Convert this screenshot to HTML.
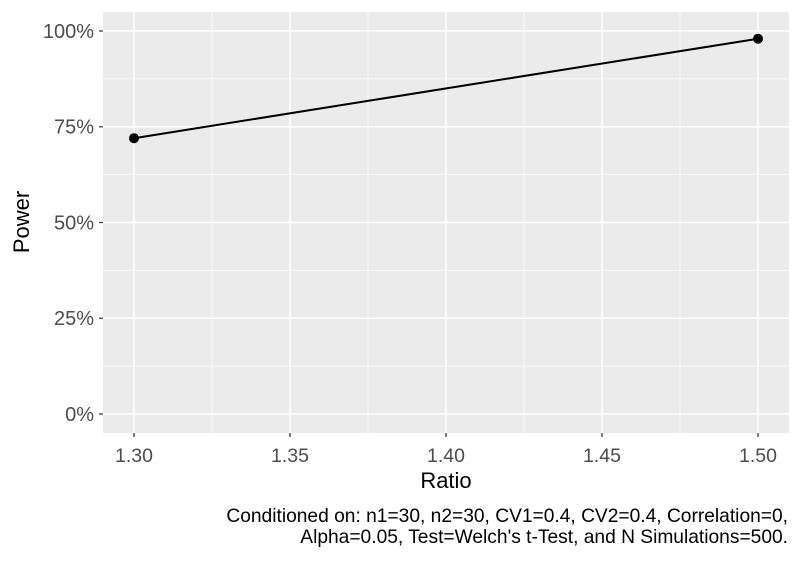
<!DOCTYPE html>
<html><head><meta charset="utf-8"><style>body{margin:0;background:#fff}</style></head><body>
<svg width="800" height="560" xmlns="http://www.w3.org/2000/svg" font-family="Liberation Sans, sans-serif">
<rect width="800" height="560" fill="#fff"/>
<rect x="103" y="12" width="686" height="421" fill="#ebebeb"/>
<g stroke="#fff" stroke-width="0.7">
<line x1="103" x2="789" y1="366.1" y2="366.1"/><line x1="103" x2="789" y1="270.4" y2="270.4"/><line x1="103" x2="789" y1="174.6" y2="174.6"/><line x1="103" x2="789" y1="78.9" y2="78.9"/>
<line x1="212" x2="212" y1="12" y2="433"/><line x1="368" x2="368" y1="12" y2="433"/><line x1="524" x2="524" y1="12" y2="433"/><line x1="680" x2="680" y1="12" y2="433"/>
</g>
<g stroke="#fff" stroke-width="1.5">
<line x1="103" x2="789" y1="414" y2="414"/><line x1="103" x2="789" y1="318.2" y2="318.2"/><line x1="103" x2="789" y1="222.5" y2="222.5"/><line x1="103" x2="789" y1="126.8" y2="126.8"/><line x1="103" x2="789" y1="31" y2="31"/>
<line x1="134" x2="134" y1="12" y2="433"/><line x1="290" x2="290" y1="12" y2="433"/><line x1="446" x2="446" y1="12" y2="433"/><line x1="602" x2="602" y1="12" y2="433"/><line x1="758" x2="758" y1="12" y2="433"/>
</g>
<g stroke="#333" stroke-width="1.2">
<line x1="99" x2="103" y1="414" y2="414"/><line x1="99" x2="103" y1="318.2" y2="318.2"/><line x1="99" x2="103" y1="222.5" y2="222.5"/><line x1="99" x2="103" y1="126.8" y2="126.8"/><line x1="99" x2="103" y1="31" y2="31"/>
<line x1="134" x2="134" y1="433" y2="437"/><line x1="290" x2="290" y1="433" y2="437"/><line x1="446" x2="446" y1="433" y2="437"/><line x1="602" x2="602" y1="433" y2="437"/><line x1="758" x2="758" y1="433" y2="437"/>
</g>
<g fill="#4d4d4d" font-size="20" text-anchor="end">
<text x="94" y="420.8">0%</text><text x="94" y="325">25%</text><text x="94" y="229.3">50%</text><text x="94" y="133.6">75%</text><text x="94" y="37.8">100%</text>
</g>
<g fill="#4d4d4d" font-size="19.5" text-anchor="middle">
<text x="134" y="462">1.30</text><text x="290" y="462">1.35</text><text x="446" y="462">1.40</text><text x="602" y="462">1.45</text><text x="758" y="462">1.50</text>
</g>
<text x="446" y="488" font-size="22" text-anchor="middle">Ratio</text>
<text transform="translate(29,222) rotate(-90)" font-size="22" text-anchor="middle">Power</text>
<line x1="134" y1="138.2" x2="758" y2="38.7" stroke="#000" stroke-width="2"/>
<circle cx="134" cy="138.2" r="5"/><circle cx="758" cy="38.7" r="5"/>
<g font-size="19.2" text-anchor="end">
<text x="788" y="522">Conditioned on: n1=30, n2=30, CV1=0.4, CV2=0.4, Correlation=0,</text>
<text x="788" y="543">Alpha=0.05, Test=Welch's t-Test, and N Simulations=500.</text>
</g>
</svg>
</body></html>
